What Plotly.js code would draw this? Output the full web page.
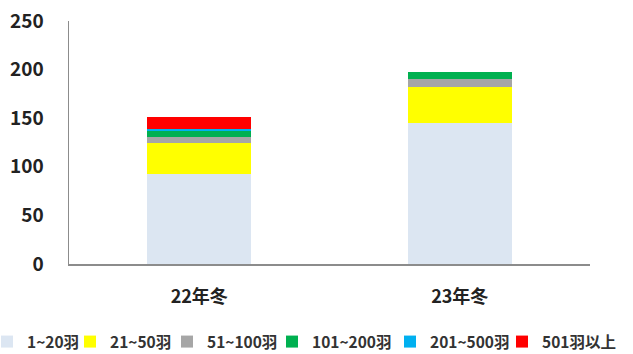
<!DOCTYPE html>
<html><head><meta charset="utf-8">
<script src="https://cdn.plot.ly/plotly-3.0.1.min.js"></script>
<style>html,body{margin:0;padding:0;background:#fff;}#chart{width:633px;height:354px;}</style>
</head><body><div id="chart"></div>
<script>
const categories = ["22年冬", "23年冬"];
const seriesNames = ["1~20羽", "21~50羽", "51~100羽", "101~200羽", "201~500羽", "501羽以上"];
const s1_20 = [92.5, 145.5];
const s21_50 = [32.5, 36.5];
const s51_100 = [6, 8];
const s101_200 = [5.5, 7.5];
const s201_500 = [2, 0];
const s501plus = [13, 0];
const yTicks = [0, 50, 100, 150, 200, 250];
const colors = ["#DCE6F2", "#FFFF00", "#A6A6A6", "#00B050", "#00B0F0", "#FF0000"];
const values = [s1_20, s21_50, s51_100, s101_200, s201_500, s501plus];
const font = "'Noto Sans CJK JP', 'Noto Sans', sans-serif";

const W = 633, H = 354;
const M = {l: 69, r: 43, t: 21, b: 90, autoexpand: false};
const plotW = W - M.l - M.r, plotH = H - M.t - M.b;
// legend entry left edges (pixels) and vertical centre
const legendLeftPx = [-13, 70, 167, 272, 390, 502];
const legendMidPx = 342;

const traces = values.map((v, i) => ({
  type: "bar", x: categories, y: v, name: seriesNames[i],
  legend: i === 0 ? "legend" : "legend" + (i + 1),
  marker: {color: colors[i], line: {width: 0}}, hoverinfo: "none"
}));
const layout = {
  width: W, height: H,
  margin: M,
  barmode: "stack", bargap: 0.6,
  paper_bgcolor: "#fff", plot_bgcolor: "#fff",
  font: {family: font, color: "#222"},
  xaxis: {
    showline: true, linecolor: "#8c8c8c", linewidth: 1.5,
    ticks: "", ticklabelstandoff: 16, automargin: false,
    tickfont: {size: 18, weight: "bold", color: "#222", family: font}
  },
  yaxis: {
    range: [0, 250], tickvals: yTicks, ticktext: yTicks.map(String),
    showgrid: false, zeroline: false, automargin: false,
    showline: true, linecolor: "#8c8c8c", linewidth: 1.5,
    ticks: "", ticklabelstandoff: 20,
    tickfont: {size: 19, weight: "bold", color: "#222", family: font}
  },
  showlegend: true
};
legendLeftPx.forEach((px, i) => {
  const key = i === 0 ? "legend" : "legend" + (i + 1);
  layout[key] = {
    orientation: "h", x: (px - M.l) / plotW, xanchor: "left",
    y: -(legendMidPx - (H - M.b)) / plotH, yanchor: "middle",
    font: {size: 15.5, weight: "bold", color: "#333", family: font},
    itemwidth: 30, bgcolor: "rgba(0,0,0,0)", borderwidth: 0
  };
});
Plotly.newPlot("chart", traces, layout, {staticPlot: true, displayModeBar: false});
</script></body></html>
